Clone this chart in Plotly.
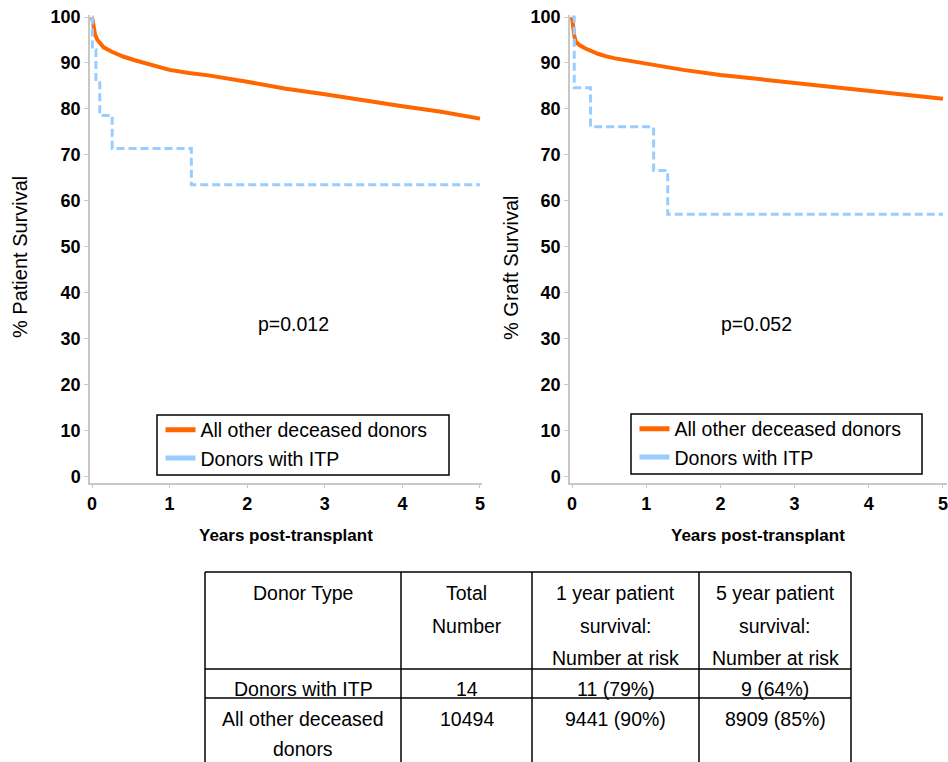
import plotly.graph_objects as go

# ---- Kaplan-Meier estimates (years post-transplant, % surviving) ----
# Patient survival
pat_other_years = [0, 0.02, 0.04, 0.07, 0.1, 0.15, 0.25, 0.4, 0.55, 0.75, 1.0, 1.25,
                   1.5, 2.0, 2.5, 3.0, 3.5, 4.0, 4.5, 5.0]
pat_other_surv = [100, 97.5, 96.1, 95.0, 94.3, 93.4, 92.5, 91.4, 90.6, 89.6, 88.5, 87.8,
                  87.3, 85.9, 84.4, 83.2, 81.8, 80.6, 79.4, 77.9]
pat_itp_years = [0, 0.005, 0.05, 0.1, 0.26, 1.28, 5.0]
pat_itp_surv = [100, 92.9, 85.7, 78.6, 71.4, 63.5, 63.5]

# Graft survival
graft_other_years = [0, 0.01, 0.03, 0.05, 0.1, 0.175, 0.25, 0.35, 0.45, 0.58, 0.8, 1.0,
                     1.5, 2.0, 2.5, 3.0, 3.5, 4.0, 4.5, 5.0]
graft_other_surv = [100, 98.5, 96.0, 94.6, 93.9, 93.2, 92.6, 92.0, 91.5, 91.0, 90.4, 89.8,
                    88.5, 87.4, 86.5, 85.6, 84.7, 83.9, 83.0, 82.2]
graft_itp_years = [0, 0.03, 0.25, 1.1, 1.29, 5.0]
graft_itp_surv = [100, 84.6, 76.1, 66.6, 57.1, 57.1]

p_values = ["p=0.012", "p=0.052"]
group_names = ["All other deceased donors", "Donors with ITP"]
y_titles = ["% Patient Survival", "% Graft Survival"]
x_title = "Years post-transplant"
y_ticks = [0, 10, 20, 30, 40, 50, 60, 70, 80, 90, 100]
x_ticks = [0, 1, 2, 3, 4, 5]

# Summary table
table_header = [["Donor Type"],
                ["Total", "Number"],
                ["1 year patient", "survival:", "Number at risk"],
                ["5 year patient", "survival:", "Number at risk"]]
table_rows = [[["Donors with ITP"], ["14"], ["11 (79%)"], ["9 (64%)"]],
              [["All other deceased", "donors"], ["10494"], ["9441 (90%)"], ["8909 (85%)"]]]

ORANGE = "#FF6600"
BLUE = "#99CCFF"
AXIS_GRAY = "#C8C8C8"
FONT = "Liberation Sans"

W, H = 948, 762


def px_x(v):
    return v / W


def px_y(v):
    return 1 - v / H


fig = go.Figure()

panels = [
    dict(xa="x", ya="y", other=(pat_other_years, pat_other_surv),
         itp=(pat_itp_years, pat_itp_surv), legend="legend"),
    dict(xa="x2", ya="y2", other=(graft_other_years, graft_other_surv),
         itp=(graft_itp_years, graft_itp_surv), legend="legend2"),
]

for p in panels:
    fig.add_trace(go.Scatter(x=p["other"][0], y=p["other"][1], mode="lines",
                             line=dict(color=ORANGE, width=4),
                             xaxis=p["xa"], yaxis=p["ya"], showlegend=False,
                             hoverinfo="skip"))
    fig.add_trace(go.Scatter(x=p["itp"][0], y=p["itp"][1], mode="lines",
                             line=dict(color=BLUE, width=3, dash="8px,4px", shape="hv"),
                             xaxis=p["xa"], yaxis=p["ya"], showlegend=False,
                             hoverinfo="skip"))
    # legend keys drawn as solid bars
    for name, col in zip(group_names, [ORANGE, BLUE]):
        fig.add_trace(go.Scatter(x=[None], y=[None], mode="lines", name=name,
                                 line=dict(color=col, width=5),
                                 xaxis=p["xa"], yaxis=p["ya"], legend=p["legend"]))

# plot area in pixels
top_px, bot_px = 14.7, 482.7
left_dom = [px_x(90), px_x(482)]
right_dom = [px_x(570), px_x(947)]
y_dom = [px_y(bot_px), px_y(top_px)]

axis_common = dict(showline=True, linecolor=AXIS_GRAY, linewidth=1.5, showgrid=False,
                   zeroline=False, ticks="outside", ticklen=4, tickwidth=1,
                   tickcolor=AXIS_GRAY, automargin=False,
                   tickfont=dict(family=FONT, size=18, color="black", weight="bold"))

legend_common = dict(xanchor="left", yanchor="top", bgcolor="rgba(0,0,0,0)",
                     borderwidth=0, tracegroupgap=0,
                     font=dict(family=FONT, size=19.5, color="black"))

fig.update_layout(
    width=W, height=H,
    margin=dict(l=0, r=0, t=0, b=0, autoexpand=False),
    paper_bgcolor="white", plot_bgcolor="white",
    xaxis=dict(domain=left_dom, range=[-0.026, 5.026], tickvals=x_ticks, anchor="y",
               **axis_common),
    yaxis=dict(domain=y_dom, range=[-1.3, 100.5], tickvals=y_ticks, anchor="x",
               **axis_common),
    xaxis2=dict(domain=right_dom, range=[-0.027, 5.054], tickvals=x_ticks, anchor="y2",
                **axis_common),
    yaxis2=dict(domain=y_dom, range=[-1.3, 100.5], tickvals=y_ticks, anchor="x2",
                **axis_common),
    legend=dict(x=px_x(160.5), y=px_y(410.5), **legend_common),
    legend2=dict(x=px_x(634.5), y=px_y(409.5), **legend_common),
    font=dict(family=FONT, color="black"),
)

shapes = []
# legend frames
for x0, y0, x1, y1 in [(157, 415, 449, 475), (631, 414, 922, 474)]:
    shapes.append(dict(type="rect", xref="paper", yref="paper", layer="above",
                       x0=px_x(x0), x1=px_x(x1), y0=px_y(y0), y1=px_y(y1),
                       line=dict(color="black", width=1.5), fillcolor="rgba(0,0,0,0)"))

annotations = []
# p-values
annotations.append(dict(x=2.6, y=33.3, xref="x", yref="y", text=p_values[0],
                        showarrow=False, font=dict(size=19.5)))
annotations.append(dict(x=2.48, y=33.3, xref="x2", yref="y2", text=p_values[1],
                        showarrow=False, font=dict(size=19.5)))
# axis titles
for cx, cy, txt in [(20, 257, y_titles[0]), (511, 268, y_titles[1])]:
    annotations.append(dict(x=px_x(cx), y=px_y(cy), xref="paper", yref="paper",
                            xanchor="center", yanchor="middle",
                            text=txt, textangle=-90, showarrow=False,
                            font=dict(size=20)))
for cx in [286, 758]:
    annotations.append(dict(x=px_x(cx), y=px_y(535), xref="paper", yref="paper",
                            xanchor="center", yanchor="middle",
                            text=x_title, showarrow=False,
                            font=dict(size=17, weight="bold")))

# ---- table ----
col_edges = [205, 401, 532, 699, 851]
row_edges = [572, 669, 698]
table_bottom = 762
for xe in col_edges:
    shapes.append(dict(type="line", xref="paper", yref="paper",
                       x0=px_x(xe), x1=px_x(xe), y0=px_y(row_edges[0]), y1=px_y(table_bottom),
                       line=dict(color="black", width=1.5)))
for ye in row_edges:
    shapes.append(dict(type="line", xref="paper", yref="paper",
                       x0=px_x(col_edges[0]), x1=px_x(col_edges[-1]),
                       y0=px_y(ye), y1=px_y(ye), line=dict(color="black", width=1.5)))

row_first_line = [593, 689, 719]
row_pitch = [32.5, 32.5, 30]
for r, cells in enumerate([table_header] + table_rows):
    for c, lines in enumerate(cells):
        cx = (col_edges[c] + col_edges[c + 1]) / 2
        for k, ln in enumerate(lines):
            annotations.append(dict(x=px_x(cx), y=px_y(row_first_line[r] + k * row_pitch[r]),
                                    xref="paper", yref="paper", text=ln, showarrow=False,
                                    xanchor="center", yanchor="middle",
                                    font=dict(size=19.5)))

fig.update_layout(annotations=annotations, shapes=shapes)

fig.write_html("out.html")
